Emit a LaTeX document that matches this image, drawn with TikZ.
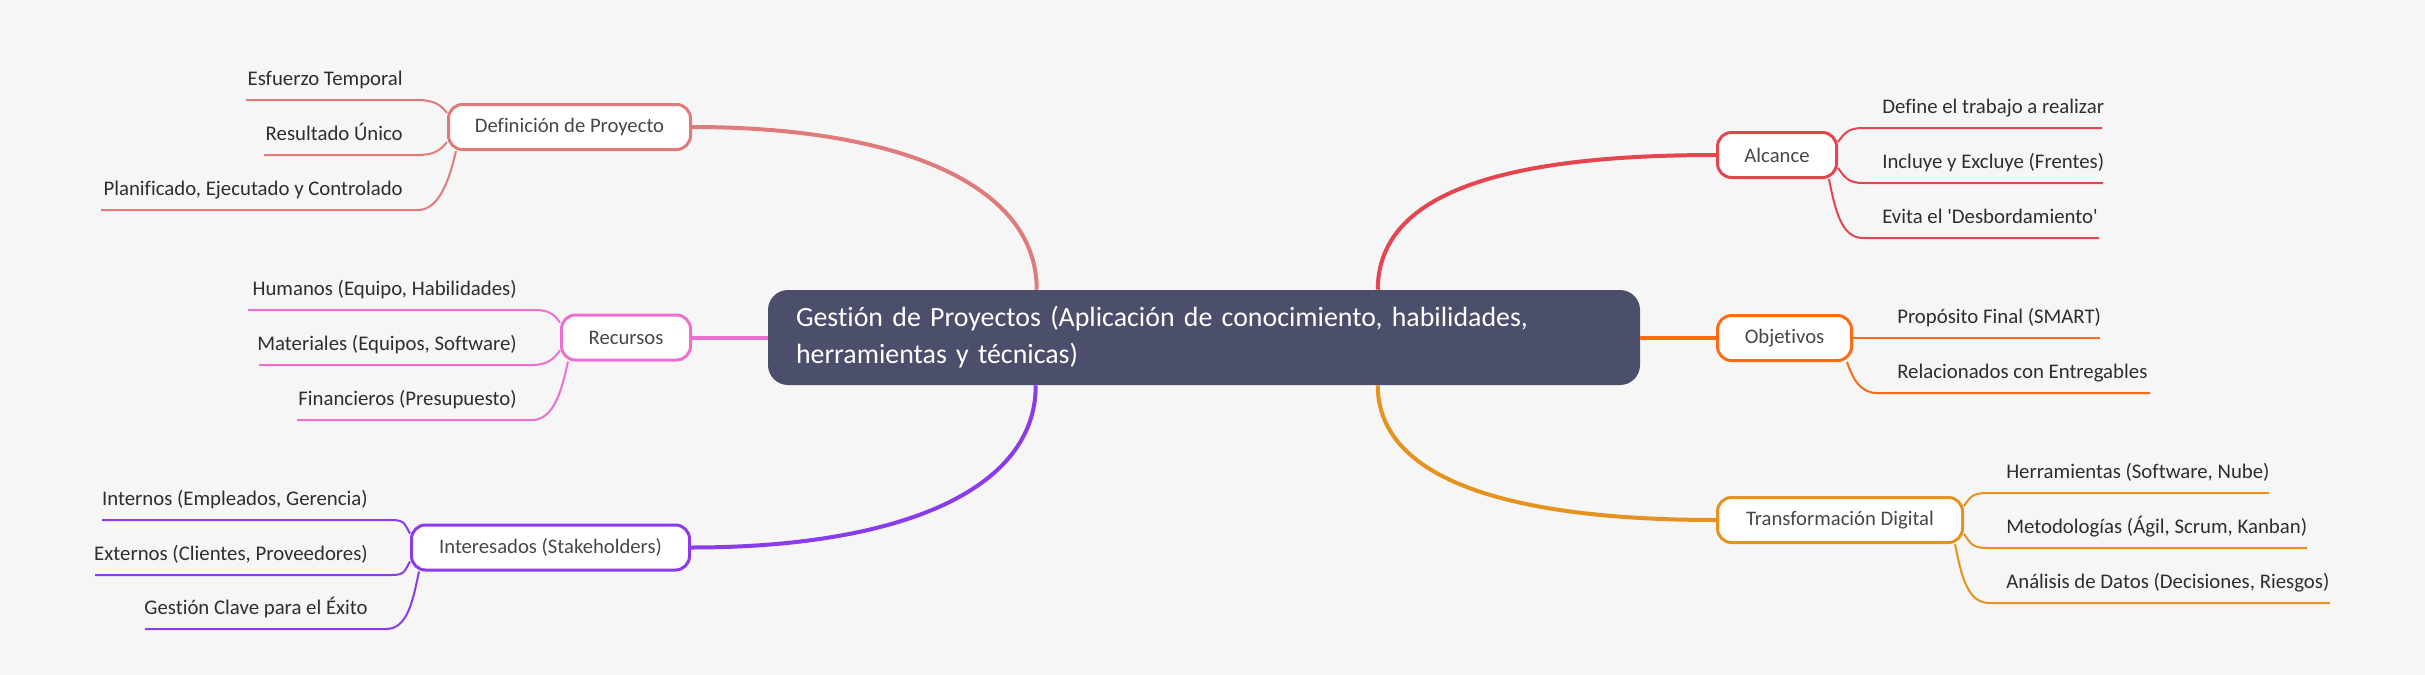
\documentclass[tikz,border=0pt]{standalone}
\usepackage{fontspec}
\setmainfont{Carlito}[Ligatures={TeXOff,CommonOff}]
\usetikzlibrary{calc}
\definecolor{bgc}{HTML}{F6F6F6}
\definecolor{cdef}{HTML}{E07B7B}
\definecolor{crec}{HTML}{EC6FD2}
\definecolor{cint}{HTML}{8A3CEC}
\definecolor{calk}{HTML}{E5454F}
\definecolor{cobj}{HTML}{FF6A14}
\definecolor{ctra}{HTML}{E6921F}
\definecolor{ccen}{HTML}{4B4F6B}
\definecolor{ctxt}{HTML}{2E2E2E}
\begin{document}
\begin{tikzpicture}[x=0.75pt,y=-0.75pt,
  box/.style={draw=#1, fill=white, line width=2.25pt, rounded corners=10.5pt,
    text=ctxt!88, font=\fontsize{15.5}{18}\selectfont, inner sep=0pt, minimum height=33.75pt},
  leafl/.style={text=ctxt, font=\fontsize{15.6}{18}\selectfont, inner sep=0pt, anchor=base east},
  leafr/.style={text=ctxt, font=\fontsize{15.6}{18}\selectfont, inner sep=0pt, anchor=base west},
  br/.style={draw=#1, line width=3pt},
  sub/.style={draw=#1, line width=1.5pt},
]
\fill[bgc] (0,0) rectangle (2425,675);
\useasboundingbox (0,0) rectangle (2425,675);

% central
\node[fill=ccen, rounded corners=15pt, minimum width=654pt, minimum height=71.25pt,
  inner xsep=21pt, inner ysep=0pt, text width=612pt, align=left, text=white,
  font=\fontsize{20.9}{27.75}\selectfont] (cen) at (1204,337.5)
  {Gestión de Proyectos (Aplicación de conocimiento, habilidades,\\herramientas y técnicas)};

% main topics
\node[box=cdef, minimum width=181.5pt] (def) at (569.5,127) {Definición de Proyecto};
\node[box=crec, minimum width=96.75pt] (rec) at (626,337.5) {Recursos};
\node[box=cint, minimum width=208.5pt] (int) at (550.5,547.5) {Interesados (Stakeholders)};
\node[box=calk, minimum width=89.25pt] (alc) at (1777,155) {Alcance};
\node[box=cobj, minimum width=100.5pt] (obj) at (1784.5,338) {Objetivos};
\node[box=ctra, minimum width=183.75pt] (tra) at (1840,520) {Transformación Digital};

% main branches
\draw[br=cdef] (def.east) .. controls (900,127) and (1037,185) .. ($(cen.north west)+(269,0)$);
\draw[br=calk] ($(cen.north west)+(610,0)$) .. controls (1378,190) and (1510,155) .. (alc.west);
\draw[br=cint] ($(cen.south west)+(268,0)$) .. controls (1036,490) and (900,547.5) .. (int.east);
\draw[br=ctra] ($(cen.south west)+(610,0)$) .. controls (1378,480) and (1510,520) .. (tra.west);
\draw[br=crec] (rec.east) -- (rec.east -| cen.west);
\draw[br=cobj] (obj.west -| cen.east) -- (obj.west);

% leaves: Definicion
\node[leafl] (e1) at (403,85) {Esfuerzo Temporal};
\node[leafl] (e2) at (403,140) {Resultado Único};
\node[leafl] (e3) at (403,195) {Planificado, Ejecutado y Controlado};
\coordinate (e1s) at (246,100); \coordinate (e1k) at (418,100);
\coordinate (e2s) at (264,155); \coordinate (e2k) at (418,155);
\coordinate (e3s) at (101,210); \coordinate (e3k) at (418,210);
\draw[sub=cdef] ($(def.west)+(0,-14)$) .. controls +(-6,-8) and +(16,0) .. (e1k) -- (e1s);
\draw[sub=cdef] ($(def.west)+(0,15)$) .. controls +(-6,8) and +(16,0) .. (e2k) -- (e2s);
\draw[sub=cdef] ($(def.south west)+(9,0)$) .. controls +(-6,26) and +(22,0) .. (e3k) -- (e3s);

% leaves: Recursos
\node[leafl] (r1) at (517,295) {Humanos (Equipo, Habilidades)};
\node[leafl] (r2) at (517,350) {Materiales (Equipos, Software)};
\node[leafl] (r3) at (517,405) {Financieros (Presupuesto)};
\coordinate (r1s) at (248,310); \coordinate (r1k) at (534,310);
\coordinate (r2s) at (259,365); \coordinate (r2k) at (532,365);
\coordinate (r3s) at (297,420); \coordinate (r3k) at (532,420);
\draw[sub=crec] ($(rec.west)+(0,-15)$) .. controls +(-6,-8) and +(16,0) .. (r1k) -- (r1s);
\draw[sub=crec] ($(rec.west)+(0,13)$) .. controls +(-6,8) and +(16,0) .. (r2k) -- (r2s);
\draw[sub=crec] ($(rec.south west)+(8,0)$) .. controls +(-6,28) and +(22,0) .. (r3k) -- (r3s);

% leaves: Interesados
\node[leafl] (i1) at (368,505) {Internos (Empleados, Gerencia)};
\node[leafl] (i2) at (368,560) {Externos (Clientes, Proveedores)};
\node[leafl] (i3) at (368,614) {Gestión Clave para el Éxito};
\coordinate (i1s) at (102,520); \coordinate (i1k) at (392,520);
\coordinate (i2s) at (95,575); \coordinate (i2k) at (392,575);
\coordinate (i3s) at (145,629); \coordinate (i3k) at (386,629);
\draw[sub=cint] ($(int.west)+(0,-14)$) .. controls +(-5,-8) and +(14,0) .. (i1k) -- (i1s);
\draw[sub=cint] ($(int.west)+(0,14)$) .. controls +(-5,8) and +(14,0) .. (i2k) -- (i2s);
\draw[sub=cint] ($(int.south west)+(9,0)$) .. controls +(-6,28) and +(22,0) .. (i3k) -- (i3s);

% leaves: Alcance
\node[leafr] (a1) at (1882,113) {Define el trabajo a realizar};
\node[leafr] (a2) at (1882,168) {Incluye y Excluye (Frentes)};
\node[leafr] (a3) at (1882,223) {Evita el 'Desbordamiento'};
\coordinate (a1e) at (2102,128); \coordinate (a1k) at (1863,128);
\coordinate (a2e) at (2103,183); \coordinate (a2k) at (1863,183);
\coordinate (a3e) at (2099,238); \coordinate (a3k) at (1863,238);
\draw[sub=calk] ($(alc.east)+(0,-13)$) .. controls +(6,-8) and +(-16,0) .. (a1k) -- (a1e);
\draw[sub=calk] ($(alc.east)+(0,13)$) .. controls +(6,8) and +(-16,0) .. (a2k) -- (a2e);
\draw[sub=calk] ($(alc.south east)+(-9,0)$) .. controls +(6,30) and +(-22,0) .. (a3k) -- (a3e);

% leaves: Objetivos
\node[leafr] (o1) at (1897,323) {Propósito Final (SMART)};
\node[leafr] (o2) at (1897,378) {Relacionados con Entregables};
\coordinate (o1e) at (2100,338);
\coordinate (o2e) at (2150,393); \coordinate (o2k) at (1877,393);
\draw[sub=cobj] (obj.east) -- (o1e);
\draw[sub=cobj] ($(obj.south east)+(-6,0)$) .. controls +(6,18) and +(-16,0) .. (o2k) -- (o2e);

% leaves: Transformacion
\node[leafr] (t1) at (2006,478) {Herramientas (Software, Nube)};
\node[leafr] (t2) at (2006,533) {Metodologías (Ágil, Scrum, Kanban)};
\node[leafr] (t3) at (2006,588) {Análisis de Datos (Decisiones, Riesgos)};
\coordinate (t1e) at (2269,493); \coordinate (t1k) at (1987,493);
\coordinate (t2e) at (2307,548); \coordinate (t2k) at (1987,548);
\coordinate (t3e) at (2330,603); \coordinate (t3k) at (1989,603);
\draw[sub=ctra] ($(tra.east)+(0,-14)$) .. controls +(6,-8) and +(-16,0) .. (t1k) -- (t1e);
\draw[sub=ctra] ($(tra.east)+(0,14)$) .. controls +(6,8) and +(-16,0) .. (t2k) -- (t2e);
\draw[sub=ctra] ($(tra.south east)+(-9,0)$) .. controls +(6,30) and +(-22,0) .. (t3k) -- (t3e);
\end{tikzpicture}
\end{document}
